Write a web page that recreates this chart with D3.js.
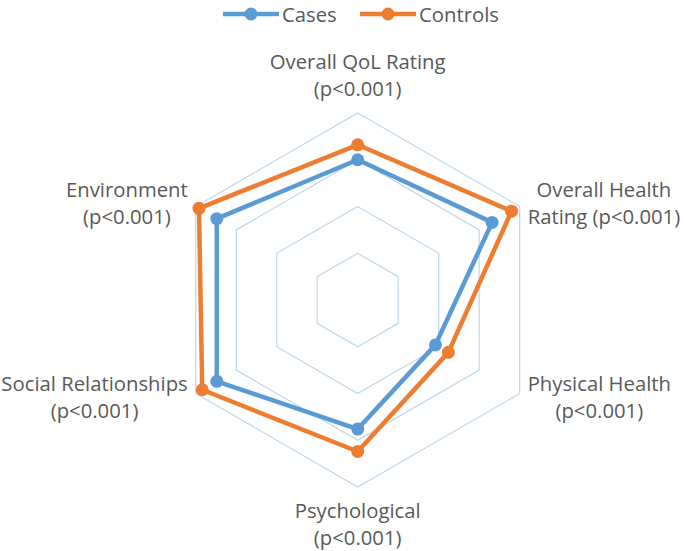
<!DOCTYPE html>
<html><head><meta charset="utf-8">
<script src="https://cdn.jsdelivr.net/npm/d3@7"></script>
<style>body{margin:0;background:#fff}</style>
</head><body>
<svg id="chart" width="685" height="551"></svg>
<script>
const axes = [
  ["Overall QoL Rating", "(p<0.001)"],
  ["Overall Health", "Rating (p<0.001)"],
  ["Physical Health", "(p<0.001)"],
  ["Psychological", "(p<0.001)"],
  ["Social Relationships", "(p<0.001)"],
  ["Environment", "(p<0.001)"]
];
const seriesNames = ["Cases", "Controls"];
const cases    = [75, 83, 48, 69, 87, 87];
const controls = [83, 95, 56, 81, 96, 98];
const gridLevels = [25, 50, 75, 100];

const colors = {Cases: "#5B9BD5", Controls: "#ED7D31"};
const svg = d3.select("#chart");
const cx = 357.7, cy = 300, R = 187;
const r = d3.scaleLinear().domain([0, 100]).range([0, R]);
const angle = d3.scaleLinear().domain([0, axes.length]).range([0, 2 * Math.PI]);
const pt = (i, v) => [cx + r(v) * Math.sin(angle(i)), cy - r(v) * Math.cos(angle(i))];

// grid
const gridLine = d3.line().curve(d3.curveLinearClosed);
svg.append("g").selectAll("path").data(gridLevels).join("path")
  .attr("d", lv => gridLine(axes.map((_, i) => pt(i, lv))))
  .attr("fill", "none").attr("stroke", "#BDD7EE").attr("stroke-width", 1.2);

// series
const data = [{name: "Cases", values: cases}, {name: "Controls", values: controls}];
const line = d3.line().curve(d3.curveLinearClosed);
const sg = svg.append("g").selectAll("g").data(data).join("g");
sg.append("path")
  .attr("d", d => line(d.values.map((v, i) => pt(i, v))))
  .attr("fill", "none").attr("stroke", d => colors[d.name]).attr("stroke-width", 4.5)
  .attr("stroke-linejoin", "round");
sg.selectAll("circle").data(d => d.values.map((v, i) => ({v, i, name: d.name}))).join("circle")
  .attr("cx", d => pt(d.i, d.v)[0]).attr("cy", d => pt(d.i, d.v)[1])
  .attr("r", 6.5).attr("fill", d => colors[d.name]);

// labels
const font = "'Open Sans', sans-serif", fs = 20.3, lh = 27.5;
const labelCfg = [
  {anchor: "bottom", dx: 0, dy: -11},
  {anchor: "left", dx: 8, dy: -4},
  {anchor: "left", dx: 8, dy: 3},
  {anchor: "top", dx: 0, dy: 9},
  {anchor: "right", dx: -8, dy: 3},
  {anchor: "right", dx: -8, dy: -4}
];
const lg = svg.append("g").attr("font-family", font).attr("font-size", fs).attr("fill", "#595959");
axes.forEach((lines, i) => {
  const [vx, vy] = pt(i, 100);
  const c = labelCfg[i];
  const g = lg.append("g");
  const ts = lines.map(l => g.append("text").attr("text-anchor", "middle").attr("dominant-baseline", "central").text(l));
  const w = d3.max(ts, t => t.node().getComputedTextLength());
  let bx, by; // block center
  if (c.anchor === "bottom") { bx = vx + c.dx; by = vy + c.dy - lh * lines.length / 2; }
  else if (c.anchor === "top") { bx = vx + c.dx; by = vy + c.dy + lh * lines.length / 2; }
  else if (c.anchor === "left") { bx = vx + c.dx + w / 2; by = vy + c.dy; }
  else { bx = vx + c.dx - w / 2; by = vy + c.dy; }
  ts.forEach((t, j) => t.attr("x", bx).attr("y", by + (j - (lines.length - 1) / 2) * lh));
});

// legend
const leg = svg.append("g").attr("font-family", font).attr("font-size", fs).attr("fill", "#595959");
const legX = [223, 360], legY = 14;
seriesNames.forEach((n, k) => {
  const x0 = legX[k];
  leg.append("line").attr("x1", x0).attr("x2", x0 + 56).attr("y1", legY).attr("y2", legY)
    .attr("stroke", colors[n]).attr("stroke-width", 4.5);
  leg.append("circle").attr("cx", x0 + 28).attr("cy", legY).attr("r", 6.5).attr("fill", colors[n]);
  leg.append("text").attr("x", x0 + 59).attr("y", legY).attr("dominant-baseline", "central").text(n);
});
</script>
</body></html>
